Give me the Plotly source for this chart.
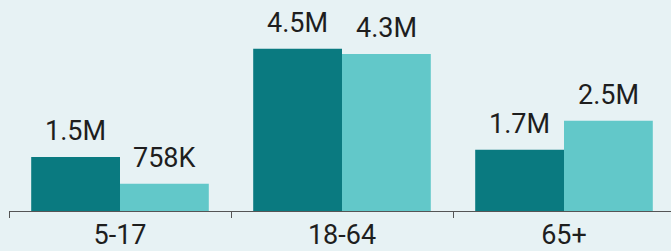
import plotly.graph_objects as go

categories = ["5-17", "18-64", "65+"]
series_a = [1.5e6, 4.5e6, 1.7e6]
series_a_text = ["1.5M", "4.5M", "1.7M"]
series_b = [0.758e6, 4.35e6, 2.5e6]
series_b_text = ["758K", "4.3M", "2.5M"]

FONT = "Roboto"
colors = ["#0a7a80", "#62c8c9"]

fig = go.Figure()
fig.add_bar(x=categories, y=series_a, marker_color=colors[0], name="A")
fig.add_bar(x=categories, y=series_b, marker_color=colors[1], name="B")
fig.update_traces(marker_line_width=0, hoverinfo="skip")

annotations = []
for vals, texts, shift in [(series_a, series_a_text, -44.4), (series_b, series_b_text, 44.4)]:
    for c, v, t in zip(categories, vals, texts):
        annotations.append(dict(x=c, y=v, text=t, xshift=shift, yshift=8, showarrow=False,
                                yanchor="bottom", xanchor="center",
                                font=dict(size=27, color="#1e1e1e", family=FONT)))

fig.update_layout(
    width=671, height=251,
    margin=dict(l=9, r=0, t=0, b=38),
    paper_bgcolor="#e7f2f4", plot_bgcolor="#e7f2f4",
    barmode="group", bargap=0.2, bargroupgap=0,
    showlegend=False,
    annotations=annotations,
    xaxis=dict(range=[-0.5, 2.482], showline=True, linecolor="#555555", linewidth=1,
               ticks="outside", tickson="boundaries", ticklen=6, tickcolor="#555555",
               tickfont=dict(size=27, color="#1e1e1e", family=FONT), showgrid=False),
    yaxis=dict(range=[0, 5.85e6], visible=False, showgrid=False),
)
fig.write_html("out.html", config={"displayModeBar": False},
               post_script="document.body.style.margin='0';document.body.style.background='#e7f2f4';")
